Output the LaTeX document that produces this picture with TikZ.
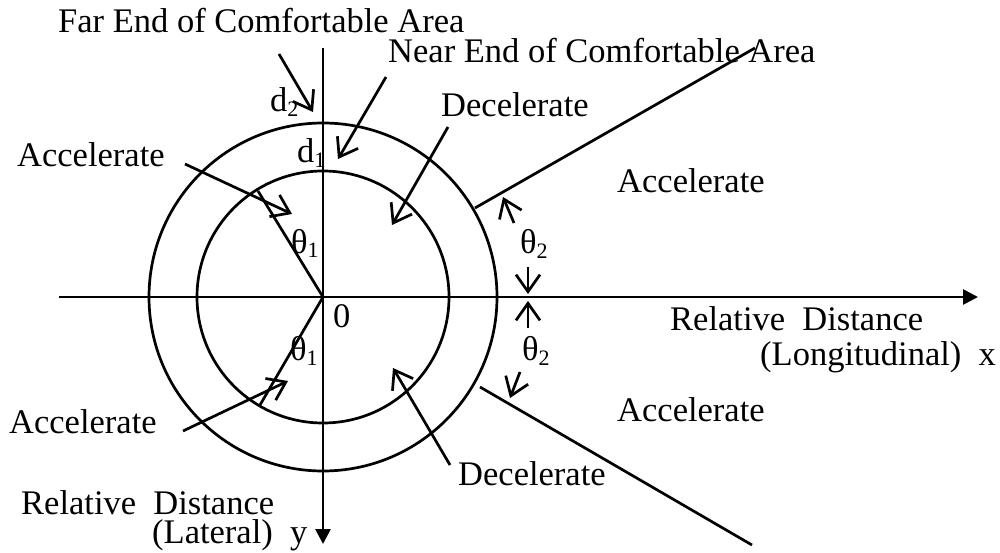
\documentclass[tikz,border=0pt]{standalone}
\usepackage{fontspec}
\setmainfont{Liberation Serif}
\usetikzlibrary{arrows.meta}
\newcommand\sbs[1]{\raisebox{-5pt}{\fontsize{22}{22}\selectfont #1}}
\begin{document}
\begin{tikzpicture}[x=1pt,y=-1pt,
  ln/.style={line width=2.7pt},
  lbl/.style={anchor=base west,inner sep=0pt,font=\fontsize{34.5}{38}\selectfont},
  ptr/.style={line width=2.7pt,-{Straight Barb[length=17pt,width=24pt]}},
  axis/.style={line width=2.7pt,-{Triangle[length=15pt,width=15pt]}}]
\useasboundingbox (0,0) rectangle (1000,553);
\coordinate (O) at (323,297);
% axes
\coordinate (xs) at (59,297);
\coordinate (xe) at (978,297);
\coordinate (ys) at (323,48);
\coordinate (ye) at (323,544);
\draw[axis] (xs) -- (xe);
\draw[axis] (ys) -- (ye);
% circles
\draw[ln] (O) circle[radius=126pt];
\draw[ln] (O) circle[radius=174pt];
% boundary lines
\coordinate (ua) at (475,208);
\coordinate (ub) at (755,48);
\coordinate (la) at (480,387);
\coordinate (lb) at (752,545);
\draw[ln] (ua) -- (ub);
\draw[ln] (la) -- (lb);
\coordinate (t1u) at (258,191);
\coordinate (t1l) at (260,405);
\draw[ln] (O) -- (t1u);
\draw[ln] (O) -- (t1l);
% labels
\node[lbl] (far) at (58,33) {Far End of Comfortable Area};
\node[lbl] (near) at (388,63) {Near End of Comfortable Area};
\node[lbl] (d2) at (270,112) {d\sbs{2}};
\node[lbl] (d1) at (297,163) {d\sbs{1}};
\node[lbl] (accUL) at (17,167) {Accelerate};
\node[lbl] (decU) at (441,117) {Decelerate};
\node[lbl] (accUR) at (617,193) {Accelerate};
\node[lbl] (th1u) at (291,253) {θ\sbs{1}};
\node[lbl] (th2u) at (520,254) {θ\sbs{2}};
\node[lbl] (zero) at (333,327) {0};
\node[lbl] (relx) at (670,330) {Relative\ \ Distance};
\node[lbl] (longx) at (760,365) {(Longitudinal)\ \ x};
\node[lbl] (th1l) at (290,360) {θ\sbs{1}};
\node[lbl] (th2l) at (522,360) {θ\sbs{2}};
\node[lbl] (accLR) at (617,421) {Accelerate};
\node[lbl] (accLL) at (9,433) {Accelerate};
\node[lbl] (decL) at (458,485) {Decelerate};
\node[lbl] (rely) at (21,514) {Relative\ \ Distance};
\node[lbl] (laty) at (152,543) {(Lateral)\ \ y};
% pointer arrows
\coordinate (p1s) at (279,54);   \coordinate (p1e) at (313,112);
\coordinate (p2s) at (386,77);   \coordinate (p2e) at (338,159);
\coordinate (p3s) at (185,164);  \coordinate (p3e) at (292,214);
\coordinate (p4s) at (448,127);  \coordinate (p4e) at (392,225);
\coordinate (p5s) at (514,223);  \coordinate (p5e) at (503,197);
\coordinate (p6s) at (528,267);  \coordinate (p6e) at (528,294);
\coordinate (p7s) at (528,328);  \coordinate (p7e) at (528,301);
\coordinate (p8s) at (520,372);  \coordinate (p8e) at (510,398);
\coordinate (p9s) at (450,465);  \coordinate (p9e) at (393,368);
\coordinate (p10s) at (183,431); \coordinate (p10e) at (288,381);
\draw[ptr] (p1s) -- (p1e);
\draw[ptr] (p2s) -- (p2e);
\draw[ptr] (p3s) -- (p3e);
\draw[ptr] (p4s) -- (p4e);
\draw[ptr] (p5s) -- (p5e);
\draw[ptr] (p6s) -- (p6e);
\draw[ptr] (p7s) -- (p7e);
\draw[ptr] (p8s) -- (p8e);
\draw[ptr] (p9s) -- (p9e);
\draw[ptr] (p10s) -- (p10e);
\end{tikzpicture}
\end{document}
